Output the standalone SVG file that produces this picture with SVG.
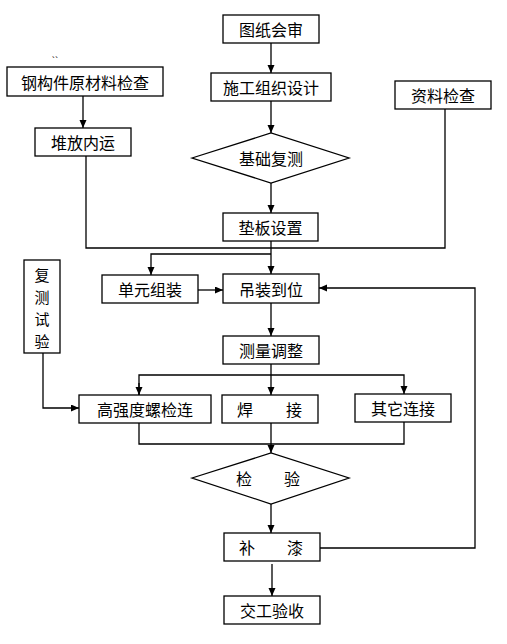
<svg xmlns="http://www.w3.org/2000/svg" width="507" height="644" viewBox="0 0 507 644">
<style>
.box{fill:#fff;stroke:#000;stroke-width:1.3}
.t{font-family:"Noto Sans CJK SC","Liberation Sans",sans-serif;font-size:16px;fill:#000;text-anchor:middle;dominant-baseline:central}
.v{font-size:15px}
.ln{fill:none;stroke:#000;stroke-width:1.3}
</style>
<defs>
<marker id="ah" markerUnits="userSpaceOnUse" markerWidth="9" markerHeight="8" refX="8" refY="3.5" orient="auto">
<path d="M0,0 L8,3.5 L0,7 z" fill="#000"/>
</marker>
</defs>
<rect width="507" height="644" fill="#fff"/>
<g id="connectors">
<line class="ln" x1="271" y1="43" x2="271" y2="73" marker-end="url(#ah)"/>
<line class="ln" x1="271" y1="101" x2="271" y2="133" marker-end="url(#ah)"/>
<line class="ln" x1="271" y1="183" x2="271" y2="213" marker-end="url(#ah)"/>
<line class="ln" x1="83" y1="96" x2="83" y2="128" marker-end="url(#ah)"/>
<polyline class="ln" points="86,156 86,248 445,248 445,109"/>
<line class="ln" x1="271" y1="241" x2="271" y2="274" marker-end="url(#ah)"/>
<polyline class="ln" points="271,254 151,254 151,275" marker-end="url(#ah)"/>
<line class="ln" x1="198" y1="290" x2="223" y2="290" marker-end="url(#ah)"/>
<line class="ln" x1="271" y1="303" x2="271" y2="336" marker-end="url(#ah)"/>
<line class="ln" x1="271" y1="364" x2="271" y2="395" marker-end="url(#ah)"/>
<polyline class="ln" points="139,395 139,375 404,375 404,394" marker-end="url(#ah)"/>
<line class="ln" x1="139" y1="383" x2="139" y2="395" marker-end="url(#ah)"/>
<polyline class="ln" points="43,353 43,408 79,408" marker-end="url(#ah)"/>
<polyline class="ln" points="139,423 139,444 404,444 404,422"/>
<line class="ln" x1="271" y1="423" x2="271" y2="453" marker-end="url(#ah)"/>
<line class="ln" x1="271" y1="504" x2="271" y2="533" marker-end="url(#ah)"/>
<polyline class="ln" points="320,548 475,548 475,288 319,288" marker-end="url(#ah)"/>
<line class="ln" x1="272" y1="564" x2="272" y2="596" marker-end="url(#ah)"/>
</g>
<g id="n1"><rect class="box" x="223" y="15" width="96" height="28"/><text class="t" x="271" y="29">图纸会审</text></g>
<g id="n2"><rect class="box" x="211" y="73" width="120" height="28"/><text class="t" x="271" y="87">施工组织设计</text></g>
<g id="n3"><rect class="box" x="7" y="67" width="156" height="29"/><text class="t" x="85" y="81.5">钢构件原材料检查</text><text x="55" y="65" font-family="Liberation Sans,sans-serif" font-size="10" text-anchor="middle" fill="#000">``</text></g>
<g id="n4"><rect class="box" x="395" y="81" width="96" height="28"/><text class="t" x="443" y="95">资料检查</text></g>
<g id="n5"><rect class="box" x="35" y="128" width="96" height="28"/><text class="t" x="83" y="142">堆放内运</text></g>
<g id="n6"><polygon class="box" points="192,158 271,133 349,158 271,183"/><text class="t" x="271" y="158">基础复测</text></g>
<g id="n7"><rect class="box" x="223" y="213" width="95" height="28"/><text class="t" x="270.5" y="227">垫板设置</text></g>
<g id="n8"><rect class="box" x="102" y="275" width="96" height="28"/><text class="t" x="150" y="289">单元组装</text></g>
<g id="n9"><rect class="box" x="223" y="274" width="96" height="29"/><text class="t" x="271" y="288.5">吊装到位</text></g>
<g id="n10"><rect class="box" x="24" y="260" width="36" height="93"/><text class="t v" x="42" y="274">复</text><text class="t v" x="42" y="296">测</text><text class="t v" x="42" y="318">试</text><text class="t v" x="42" y="340">验</text></g>
<g id="n11"><rect class="box" x="223" y="336" width="96" height="28"/><text class="t" x="271" y="350">测量调整</text></g>
<g id="n12"><rect class="box" x="79" y="395" width="132" height="28"/><text class="t" x="145" y="409">高强度螺检连</text></g>
<g id="n13"><rect class="box" x="222" y="395" width="96" height="28"/><text class="t" y="409"><tspan x="245">焊</tspan><tspan x="294">接</tspan></text></g>
<g id="n14"><rect class="box" x="355" y="394" width="96" height="28"/><text class="t" x="403" y="408">其它连接</text></g>
<g id="n15"><polygon class="box" points="192,478 271,453 349,478 271,504"/><text class="t" y="478"><tspan x="244">检</tspan><tspan x="292">验</tspan></text></g>
<g id="n16"><rect class="box" x="224" y="533" width="96" height="28"/><text class="t" y="547"><tspan x="247">补</tspan><tspan x="295">漆</tspan></text></g>
<g id="n17"><rect class="box" x="224" y="596" width="96" height="28"/><text class="t" x="272" y="610">交工验收</text></g>
</svg>
